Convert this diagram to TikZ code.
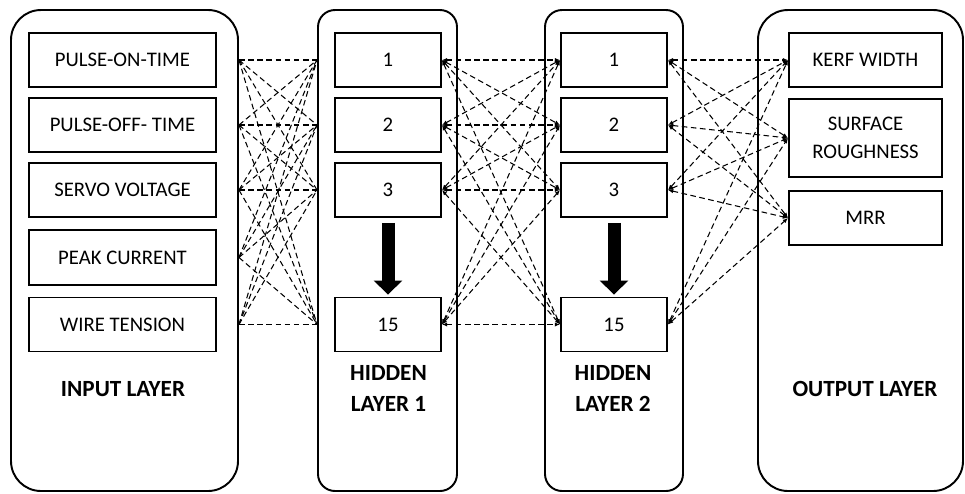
\documentclass[tikz,border=0pt]{standalone}
\usepackage{fontspec}
\setmainfont{Carlito}
\usetikzlibrary{arrows.meta}
\tikzstyle{layerpanel}=[draw,line width=1.1pt,rounded corners=0.6cm,minimum height=9.62cm]
\tikzstyle{hiddenpanel}=[layerpanel,rounded corners=0.34cm]
\tikzstyle{neuron}=[draw,line width=1.1pt,minimum height=1.08cm,inner sep=0pt,font=\fontsize{11.8}{14}\selectfont,align=center]
\tikzstyle{layerlabel}=[font=\fontsize{13.2}{17.6}\selectfont\bfseries,align=center]
\tikzstyle{netline}=[line width=0.6pt,dash pattern=on 3.2pt off 2pt]
\tikzstyle{netarc}=[netline,<->,>={Latex[length=3pt,width=2.4pt]}]
\tikzstyle{bigarrow}=[line width=0.26cm,-{Triangle[length=0.28cm,width=0.56cm]},shorten <=0.1cm,shorten >=0.04cm]

\begin{document}
\begin{tikzpicture}

\useasboundingbox (0cm,0cm) rectangle (19.3cm,-9.86cm);

\node[layerpanel,minimum width=4.54cm] (inpanel) at (2.49cm,-5.01cm) {};
\node[hiddenpanel,minimum width=2.78cm] (hapanel) at (7.75cm,-5.01cm) {};
\node[hiddenpanel,minimum width=2.76cm] (hbpanel) at (12.28cm,-5.01cm) {};
\node[layerpanel,minimum width=4.1cm] (outpanel) at (17.21cm,-5.01cm) {};

\node[neuron,minimum width=3.74cm] (in1) at (2.45cm,-1.2cm) {PULSE-ON-TIME};
\node[neuron,minimum width=3.74cm] (in2) at (2.45cm,-2.5cm) {PULSE-OFF- TIME};
\node[neuron,minimum width=3.74cm] (in3) at (2.45cm,-3.8cm) {SERVO VOLTAGE};
\node[neuron,minimum width=3.74cm,minimum height=1.1cm] (in4) at (2.45cm,-5.15cm) {PEAK CURRENT};
\node[neuron,minimum width=3.74cm] (in5) at (2.45cm,-6.49cm) {WIRE TENSION};

\node[neuron,minimum width=2.12cm] (ha1) at (7.76cm,-1.2cm) {1};
\node[neuron,minimum width=2.12cm] (ha2) at (7.76cm,-2.5cm) {2};
\node[neuron,minimum width=2.12cm] (ha3) at (7.76cm,-3.8cm) {3};
\node[neuron,minimum width=2.12cm] (ha15) at (7.76cm,-6.49cm) {15};

\node[neuron,minimum width=2.12cm] (hb1) at (12.28cm,-1.2cm) {1};
\node[neuron,minimum width=2.12cm] (hb2) at (12.28cm,-2.5cm) {2};
\node[neuron,minimum width=2.12cm] (hb3) at (12.28cm,-3.8cm) {3};
\node[neuron,minimum width=2.12cm] (hb15) at (12.28cm,-6.49cm) {15};

\node[neuron,minimum width=3.06cm] (out1) at (17.31cm,-1.2cm) {KERF WIDTH};
\node[neuron,minimum width=3.06cm,minimum height=1.56cm] (out2) at (17.31cm,-2.76cm) {SURFACE\\[2pt]ROUGHNESS};
\node[neuron,minimum width=3.06cm] (out3) at (17.31cm,-4.36cm) {MRR};

\node[layerlabel] (inlabel) at (2.46cm,-7.78cm) {INPUT LAYER};
\node[layerlabel] (halabel) at (7.77cm,-7.77cm) {HIDDEN\\LAYER 1};
\node[layerlabel] (hblabel) at (12.26cm,-7.77cm) {HIDDEN\\LAYER 2};
\node[layerlabel] (outlabel) at (17.3cm,-7.78cm) {OUTPUT LAYER};

% input layer -> hidden layer 1
\foreach \i in {1,...,5}
  \foreach \j in {1,2,3,15}
    \draw[netline] (in\i.east -| inpanel.east) -- (ha\j.west -| hapanel.west);

% hidden layer 1 <-> hidden layer 2
\foreach \i in {1,2,3,15}
  \foreach \j in {1,2,3,15}
    \draw[netarc] (ha\i.east) -- (hb\j.west);

% hidden layer 2 <-> output layer
\foreach \i in {1,2,3,15}
  \foreach \j in {1,2,3}
    \draw[netarc] (hb\i.east) -- (out\j.west);

\draw[bigarrow] (ha3.south) -- (ha15.north);
\draw[bigarrow] (hb3.south) -- (hb15.north);

\end{tikzpicture}
\end{document}
